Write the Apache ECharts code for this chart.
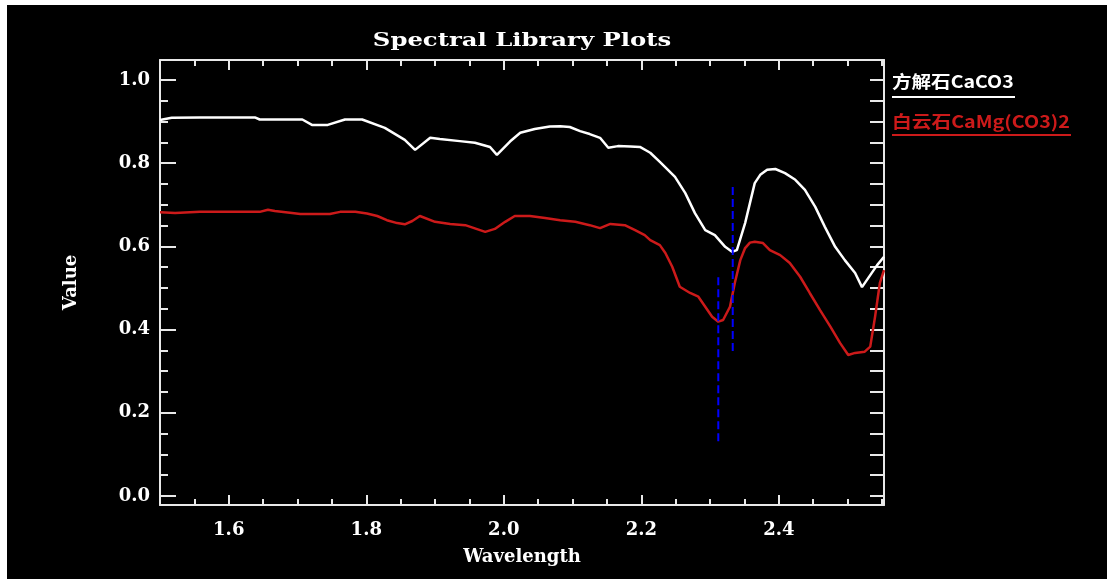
<!DOCTYPE html>
<html>
<head>
<meta charset="utf-8">
<script src="https://cdn.jsdelivr.net/npm/echarts@6/dist/echarts.min.js"></script>
<style>
  html, body { margin: 0; padding: 0; background: #000000; overflow: hidden; width: 100%; height: 100%; }
  #chart { position: absolute; left: 7px; top: 5px; width: 1100px; height: 574px; background: #000000; }
  #topStrip { position: absolute; left: 0; top: 0; width: 100%; height: 5px; background: #ffffff; z-index: 2; }
  #leftStrip { position: absolute; left: 0; top: 0; width: 7px; height: 100%; background: #ffffff; z-index: 2; }
</style>
</head>
<body>
<div id="chart"></div>
<div id="topStrip"></div>
<div id="leftStrip"></div>
<script>
// ---- data ----
const titleText = 'Spectral Library Plots';
const xName = 'Wavelength';
const yName = 'Value';
const seriesNames = ['方解石CaCO3', '白云石CaMg(CO3)2'];

const calciteX = [1.500,1.517,1.558,1.638,1.645,1.707,1.721,1.744,1.769,1.794,1.827,1.856,1.871,1.893,1.907,1.936,1.958,1.980,1.990,2.009,2.024,2.045,2.067,2.082,2.096,2.111,2.125,2.140,2.152,2.166,2.184,2.198,2.213,2.227,2.249,2.264,2.278,2.293,2.307,2.322,2.332,2.339,2.351,2.358,2.365,2.373,2.383,2.395,2.409,2.424,2.438,2.453,2.467,2.482,2.496,2.511,2.521,2.533,2.543,2.553];
const calciteY = [0.904,0.909,0.910,0.910,0.905,0.905,0.892,0.892,0.905,0.905,0.885,0.856,0.832,0.861,0.858,0.853,0.849,0.839,0.820,0.852,0.873,0.882,0.888,0.889,0.887,0.877,0.870,0.861,0.837,0.841,0.840,0.839,0.825,0.803,0.767,0.728,0.680,0.639,0.627,0.599,0.587,0.591,0.656,0.704,0.752,0.772,0.784,0.786,0.776,0.760,0.736,0.695,0.647,0.599,0.567,0.536,0.502,0.531,0.555,0.575];

const dolomiteX = [1.500,1.522,1.558,1.645,1.657,1.667,1.689,1.704,1.747,1.762,1.784,1.801,1.816,1.830,1.845,1.856,1.867,1.878,1.900,1.922,1.944,1.973,1.987,2.002,2.016,2.038,2.060,2.082,2.104,2.125,2.140,2.155,2.176,2.191,2.205,2.213,2.227,2.235,2.245,2.256,2.271,2.283,2.293,2.303,2.312,2.319,2.329,2.336,2.344,2.351,2.358,2.365,2.377,2.387,2.402,2.416,2.431,2.445,2.460,2.475,2.489,2.501,2.511,2.525,2.533,2.540,2.547,2.553];
const dolomiteY = [0.682,0.680,0.683,0.683,0.688,0.685,0.681,0.678,0.678,0.683,0.683,0.679,0.673,0.663,0.656,0.653,0.661,0.673,0.659,0.654,0.651,0.635,0.642,0.659,0.673,0.673,0.668,0.663,0.659,0.651,0.644,0.654,0.651,0.639,0.627,0.615,0.603,0.584,0.551,0.503,0.488,0.479,0.455,0.431,0.419,0.423,0.455,0.512,0.567,0.596,0.609,0.611,0.608,0.591,0.579,0.560,0.527,0.488,0.447,0.407,0.368,0.339,0.344,0.347,0.359,0.431,0.512,0.543];

// blue dashed markers: x position, top value, bottom value
const markerX = [2.312, 2.333];
const markerTop = [0.526, 0.743];
const markerBottom = [0.127, 0.344];

const xMajorTicks = [1.6, 1.8, 2.0, 2.2, 2.4];
const xMinorTicks = [1.55,1.65,1.7,1.75,1.85,1.9,1.95,2.05,2.1,2.15,2.25,2.3,2.35,2.45,2.5,2.55];
const yMajorTicks = [0.0, 0.2, 0.4, 0.6, 0.8, 1.0];
const yMinorTicks = [0.05,0.1,0.15,0.25,0.3,0.35,0.45,0.5,0.55,0.65,0.7,0.75,0.85,0.9,0.95];
const yRightTicks = [0.0,0.05,0.1,0.15,0.2,0.25,0.3,0.35,0.4,0.45,0.5,0.55,0.6,0.65,0.7,0.75,0.8,0.85,0.9,0.95,1.0];

const X_MIN = 1.5, X_MAX = 2.553;
const Y_MIN = -0.0216, Y_MAX = 1.048;

// ---- chart ----
const AXIS_COLOR = '#e8e8e8';
const WHITE = '#ffffff';
const RED = '#cc1a1a';
const BLUE = '#0000ff';
const FONT = 'DejaVu Serif';

function zip(a, b) { return a.map((v, i) => [v, b[i]]); }

function xAxisDef(position, ticks, len, labels, showLine, extra) {
  return Object.assign({
    type: 'value', position: position, min: X_MIN, max: X_MAX,
    axisLine: { show: showLine, onZero: false, lineStyle: { color: AXIS_COLOR, width: 2 } },
    axisTick: { show: true, inside: true, length: len, customValues: ticks, lineStyle: { color: AXIS_COLOR, width: 2 } },
    axisLabel: labels ? {
      show: true, customValues: ticks, margin: 16, color: WHITE,
      fontFamily: FONT, fontWeight: 'bold', fontSize: 18,
      formatter: v => v.toFixed(1)
    } : { show: false },
    splitLine: { show: false }
  }, extra || {});
}
function yAxisDef(position, ticks, len, labels, showLine, extra) {
  return Object.assign({
    type: 'value', position: position, min: Y_MIN, max: Y_MAX,
    axisLine: { show: showLine, onZero: false, lineStyle: { color: AXIS_COLOR, width: 2 } },
    axisTick: { show: true, inside: true, length: len, customValues: ticks, lineStyle: { color: AXIS_COLOR, width: 2 } },
    axisLabel: labels ? {
      show: true, customValues: ticks, margin: 10, color: WHITE,
      fontFamily: FONT, fontWeight: 'bold', fontSize: 18,
      formatter: v => v.toFixed(1)
    } : { show: false },
    splitLine: { show: false }
  }, extra || {});
}

const series = [
  { name: seriesNames[0], type: 'line', data: zip(calciteX, calciteY), showSymbol: false, symbol: 'none',
    lineStyle: { color: WHITE, width: 2.5 }, itemStyle: { color: WHITE }, xAxisIndex: 0, yAxisIndex: 0, z: 3 },
  { name: seriesNames[1], type: 'line', data: zip(dolomiteX, dolomiteY), showSymbol: false, symbol: 'none',
    lineStyle: { color: RED, width: 2.5 }, itemStyle: { color: RED }, xAxisIndex: 0, yAxisIndex: 0, z: 3 }
];
markerX.forEach((mx, i) => {
  series.push({ type: 'line', data: [[mx, markerTop[i]], [mx, markerBottom[i]]], showSymbol: false, symbol: 'none',
    lineStyle: { color: BLUE, width: 2, type: [8, 4] }, xAxisIndex: 0, yAxisIndex: 0, z: 4, silent: true });
});

const chart = echarts.init(document.getElementById('chart'));
chart.setOption({
  backgroundColor: '#000000',
  animation: false,
  grid: { left: 153, top: 55, width: 724, height: 445, containLabel: false },
  xAxis: [
    xAxisDef('bottom', xMajorTicks, 10, true, true, {
      name: xName, nameLocation: 'middle', nameGap: 43,
      nameTextStyle: { color: WHITE, fontFamily: FONT, fontWeight: 'bold', fontSize: 18 }
    }),
    xAxisDef('bottom', xMinorTicks, 6, false, false),
    xAxisDef('top', xMajorTicks, 10, false, true),
    xAxisDef('top', xMinorTicks, 6, false, false)
  ],
  yAxis: [
    yAxisDef('left', yMajorTicks, 16, true, true, {
      name: yName, nameLocation: 'middle', nameGap: 80, nameRotate: 90,
      nameTextStyle: { color: WHITE, fontFamily: FONT, fontWeight: 'bold', fontSize: 18 }
    }),
    yAxisDef('left', yMinorTicks, 8, false, false),
    yAxisDef('right', yRightTicks, 14, false, true)
  ],
  series: series,
  graphic: [
    { type: 'text', x: 515, y: 36, scaleX: 1.28, style: { text: titleText, x: 0, y: 0, fill: WHITE, font: 'bold 19px "DejaVu Serif"', align: 'center', verticalAlign: 'middle' } },
    { type: 'text', x: 885, y: 77, scaleX: 1.15, style: { text: seriesNames[0], x: 0, y: 0, fill: WHITE, font: 'bold 17px "Noto Sans CJK SC"', verticalAlign: 'middle' } },
    { type: 'line', shape: { x1: 885, y1: 92, x2: 1008, y2: 92 }, style: { stroke: WHITE, lineWidth: 2 } },
    { type: 'text', x: 885, y: 117, scaleX: 1.16, style: { text: seriesNames[1], x: 0, y: 0, fill: RED, font: 'bold 17px "Noto Sans CJK SC"', verticalAlign: 'middle' } },
    { type: 'line', shape: { x1: 885, y1: 130, x2: 1064, y2: 130 }, style: { stroke: RED, lineWidth: 2 } }
  ]
});
</script>
</body>
</html>
